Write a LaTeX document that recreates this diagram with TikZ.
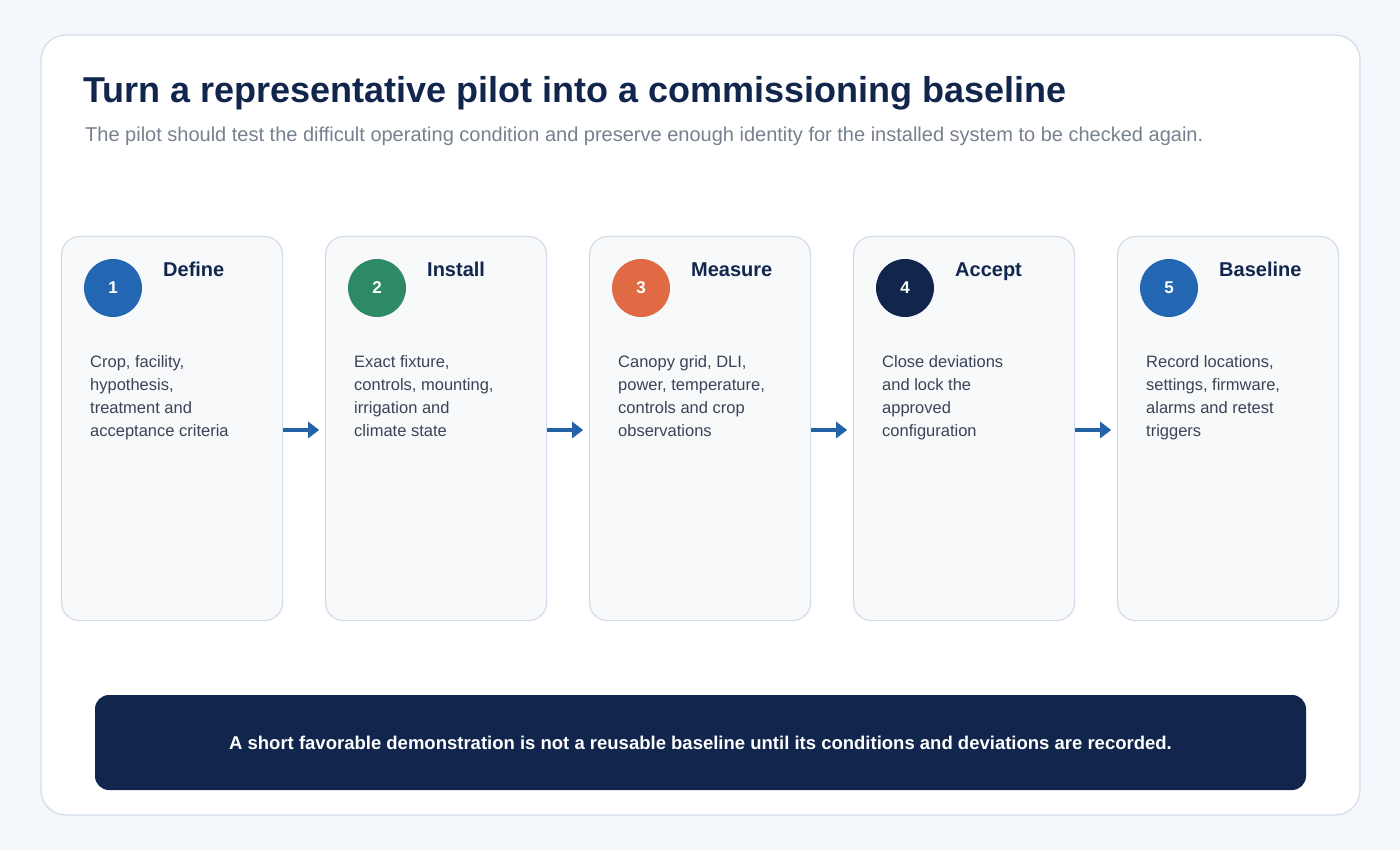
\documentclass[tikz,border=0pt]{standalone}
\usepackage{fontspec}
\setmainfont{Liberation Sans}
\usetikzlibrary{arrows.meta}
\definecolor{bg}{HTML}{F4F7FB}
\definecolor{navy}{HTML}{12264D}
\definecolor{cardfill}{HTML}{F7F9FB}
\definecolor{cardline}{HTML}{D3DCE8}
\definecolor{sub}{HTML}{76808F}
\definecolor{body}{HTML}{3A4456}
\definecolor{cblue}{HTML}{2366B1}
\definecolor{cgreen}{HTML}{2E8A66}
\definecolor{corange}{HTML}{E06A43}
\definecolor{arr}{HTML}{2563A8}
\begin{document}
\begin{tikzpicture}[x=1pt,y=-1pt,
  card/.style={draw=cardline,line width=1.2pt,fill=cardfill,rounded corners=18pt,minimum width=221pt,minimum height=384pt,anchor=north west,inner sep=0pt},
  num/.style={circle,minimum size=58pt,inner sep=0pt,text=white,font=\fontsize{17}{20}\selectfont\bfseries},
  ctitle/.style={anchor=base west,text=navy,font=\fontsize{20}{24}\selectfont\bfseries,inner sep=0pt},
  cbody/.style={anchor=north west,text=body,align=left,font=\fontsize{16.5}{23}\selectfont,inner sep=0pt},
  flow/.style={draw=arr,line width=4pt,-{Triangle[length=11pt,width=16pt]}}]
\useasboundingbox (0,0) rectangle (1400,850);
\fill[bg] (0,0) rectangle (1400,850);
\draw[cardline,fill=white,line width=1.2pt,rounded corners=25pt] (41,35) rectangle (1360,815);
\node[anchor=base west,inner sep=0pt,text=navy,font=\fontsize{36}{40}\selectfont\bfseries] (title) at (83,103) {Turn a representative pilot into a commissioning baseline};
\node[anchor=base west,inner sep=0pt,text=sub,font=\fontsize{20}{24}\selectfont] (subtitle) at (85,142) {The pilot should test the difficult operating condition and preserve enough identity for the installed system to be checked again.};
\foreach \i/\c/\t/\b in {1/cblue/Define/{Crop, facility,\\hypothesis,\\treatment and\\acceptance criteria},
  2/cgreen/Install/{Exact fixture,\\controls, mounting,\\irrigation and\\climate state},
  3/corange/Measure/{Canopy grid, DLI,\\power, temperature,\\controls and crop\\observations},
  4/navy/Accept/{Close deviations\\and lock the\\approved\\configuration},
  5/cblue/Baseline/{Record locations,\\settings, firmware,\\alarms and retest\\triggers}}{
  \pgfmathsetmacro{\x}{61+264*(\i-1)}
  \node[card] (card\i) at (\x,236) {};
  \node[num,fill=\c] (n\i) at (\x+52,288) {\i};
  \node[ctitle] (t\i) at (\x+102,277) {\t};
  \node[cbody] (b\i) at (\x+29,355) {\b};
}
\foreach \i/\j in {1/2,2/3,3/4,4/5}{
  \coordinate (e\i) at ([yshift=-(384/2-194)*1pt]card\i.east);
  \draw[flow] (card\i.east |- 0,430) -- ++(36,0) coordinate (tip\i);
}
\node[fill=navy,rounded corners=14pt,minimum width=1211pt,minimum height=95pt,inner sep=0pt,text=white,font=\fontsize{18.5}{22}\selectfont\bfseries] (banner) at (700.5,742.5) {A short favorable demonstration is not a reusable baseline until its conditions and deviations are recorded.};
\end{tikzpicture}
\end{document}
